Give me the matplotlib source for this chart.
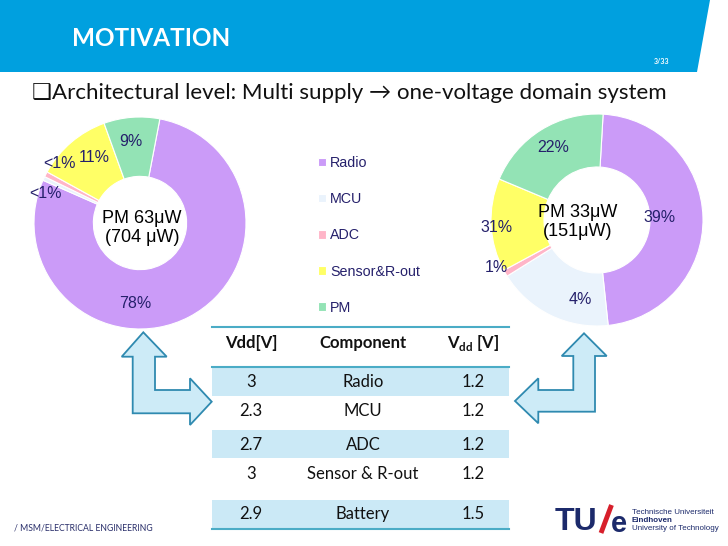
"""
motivation slide: power breakdown of the two supply schemes as donuts, plus the Vdd table

"""

from matplotlib import pyplot as plt
from matplotlib.patches import Polygon
import numpy as np

plt.rcParams['mathtext.fontset'] = 'custom'
plt.rcParams['mathtext.bf'] = 'Lato:bold'
plt.rcParams['mathtext.rm'] = 'Lato'

# shares as drawn in the two donuts (percent of circle)
parts = ['Radio', 'MCU', 'ADC', 'Sensor&R-out', 'PM']
multi_share = [78.6, 0.6, 0.8, 11.5, 8.5]
single_share = [47.4, 17.8, 1.0, 14.2, 19.6]
# the labels written on the slide
multi_labels = ['78%', '<1%', '<1%', '11%', '9%']
single_labels = ['39%', '4%', '1%', '31%', '22%']
multi_total = 'PM 63μW\n(704 μW)'
single_total = 'PM 33μW\n(151μW)'

# table
vdd_multi = ['3', '2.3', '2.7', '3', '2.9']
components = ['Radio', 'MCU', 'ADC', 'Sensor & R-out', 'Battery']
vdd_single = ['1.2', '1.2', '1.2', '1.2', '1.5']

colors = ['#CB9BF8', '#EAF3FC', '#FFB5C8', '#FFFF66', '#93E3B5']
navy = '#25206B'
blue = '#00A0DF'
W, H = 728, 546

plt.close('all')
fig = plt.figure(figsize=(W/100., H/100.), dpi=100)
ax = fig.add_axes([0, 0, 1, 1])
ax.set_xlim(0, W)
ax.set_ylim(H, 0)
ax.axis('off')

# header banner
ax.fill([0, 710, 697, 0], [0, 0, 72, 72], color=blue, lw=0)
ax.text(72, 39, 'MOTIVATION', color='white', fontsize=17.5, fontweight='bold',
        family='Lato', va='center', ha='left')
ax.text(662, 62, '3/33', color='white', fontsize=5, fontweight='bold',
        family='Lato', va='center', ha='center')
ax.text(32, 93, '❑Architectural level: Multi supply → one-voltage domain system',
        fontsize=16, family=['Lato', 'DejaVu Sans'], va='center', ha='left',
        color='#111111')


def donut_axes(cx, cy, r):
    w = 2.5*r
    return fig.add_axes([(cx - w/2)/W, 1 - (cy + w/2)/H, w/W, w/H])


# left donut: multi supply
dax1 = donut_axes(140, 223, 106)
wedges, _ = dax1.pie(multi_share, colors=colors, startangle=79.2, counterclock=False,
                     wedgeprops=dict(width=0.56, edgecolor='white', linewidth=0.8))
for (x, y), s in zip([(135, 303), (60, 163), (45, 194), (94, 157), (131, 141)], multi_labels):
    dax1.text(x, y, s, transform=ax.transData, color=navy, fontsize=11.5,
              family='Liberation Sans', ha='center', va='center')
dax1.text(142, 228, multi_total, transform=ax.transData, fontsize=13,
          family='Liberation Sans', ha='center', va='center', linespacing=1.15)

# right donut: one voltage domain
dax2 = donut_axes(597, 220, 106)
dax2.pie(single_share, colors=colors, startangle=86.7, counterclock=False,
         wedgeprops=dict(width=0.5, edgecolor='white', linewidth=0.8))
for (x, y), s in zip([(660, 217), (580, 300), (496, 268), (497, 228), (553, 148)], single_labels):
    dax2.text(x, y, s, transform=ax.transData, color=navy, fontsize=11.5,
              family='Liberation Sans', ha='center', va='center')
dax2.text(578, 222, single_total, transform=ax.transData, fontsize=13,
          family='Liberation Sans', ha='center', va='center', linespacing=1.15)

leg = fig.legend(handles=wedges, labels=parts, loc='upper left',
                 bbox_to_anchor=(318/W, 1 - 156/H), frameon=False,
                 prop=dict(family='Liberation Sans', size=10.3), labelcolor=navy,
                 handlelength=0.55, handleheight=0.55, handletextpad=0.3,
                 labelspacing=1.55, borderpad=0, borderaxespad=0)

# table
line_c = '#4BACC6'
band_c = '#CBE9F6'
tx0, tx1 = 212, 509
row_y = [382, 411, 445, 474, 514]
bands = [(368, 396), (430, 458), (500, 528)]
for y0, y1 in bands:
    ax.fill([tx0, tx1, tx1, tx0], [y0, y0, y1, y1], color=band_c, lw=0)
for y in [327, 367, 529]:
    ax.plot([tx0, tx1], [y, y], color=line_c, lw=1.5)
col_x = [251, 363, 473]
hdr = dict(fontsize=12, fontweight='bold', family='Lato', ha='center', va='center', color='#111111')
ax.text(col_x[0], 343, 'Vdd[V]', **hdr)
ax.text(col_x[1], 343, 'Component', **hdr)
ax.text(col_x[2], 343, r'V$_{\mathbf{dd}}$ [V]', **hdr)
cell = dict(fontsize=12, family='Lato', ha='center', va='center', color='#111111')
for y, a, b, c in zip(row_y, vdd_multi, components, vdd_single):
    ax.text(col_x[0], y, a, **cell)
    ax.text(col_x[1], y, b, **cell)
    ax.text(col_x[2], y, c, **cell)

# block arrows linking the donuts to the table
arr_left = [(143.3, 332.3), (166.7, 356.7), (155, 356.7), (155, 390), (190, 390),
            (190, 378.3), (211.7, 401.7), (190, 425), (190, 413.3), (132.7, 413.3),
            (132.7, 356.7), (121.7, 356.7)]
arr_right = [(584, 333.3), (606.7, 356), (595, 356), (595, 411.7), (538.3, 411.7),
             (538.3, 423.3), (515, 401), (538.3, 378.3), (538.3, 390), (573.3, 390),
             (573.3, 356), (561.7, 356)]
for pts in [arr_left, arr_right]:
    ax.add_patch(Polygon(pts, closed=True, fc='#CDEBF7', ec='#2F8AB0', lw=1.3, zorder=3))

# footer
ax.text(14, 528, '/ MSM/ELECTRICAL ENGINEERING', fontsize=6.2, family='Lato',
        color='#2A2F6B', va='center', ha='left')
logo = '#1C2A6B'
ax.text(555, 522, 'TU', fontsize=23, fontweight='bold', family='Liberation Sans',
        color=logo, va='center', ha='left')
ax.plot([601, 611.5], [533, 505], color='#D71F2B', lw=3.5, solid_capstyle='butt')
ax.text(611, 524, 'e', fontsize=21, fontweight='bold', family='Liberation Sans',
        color=logo, va='center', ha='left')
ax.text(632, 513, 'Technische Universiteit', fontsize=5.8, family='Liberation Sans',
        color=logo, va='center', ha='left')
ax.text(632, 521, 'Eindhoven', fontsize=5.8, fontweight='bold', family='Liberation Sans',
        color=logo, va='center', ha='left')
ax.text(632, 529, 'University of Technology', fontsize=5.8, family='Liberation Sans',
        color=logo, va='center', ha='left')

fig.savefig('out.png', dpi=100)
